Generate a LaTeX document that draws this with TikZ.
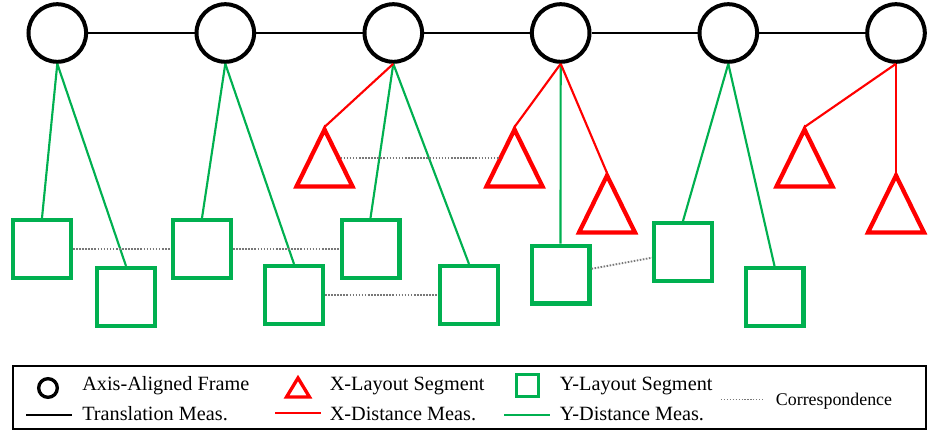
\documentclass[tikz,border=0pt]{standalone}
\usepackage{fontspec}
\setmainfont{Liberation Serif}
\definecolor{ygreen}{RGB}{0,176,80}
\definecolor{xred}{RGB}{255,0,0}
\definecolor{corrgray}{RGB}{120,120,120}
\begin{document}
\begin{tikzpicture}[x=0.75pt,y=-0.75pt,
  frame/.style={circle,draw=black,line width=3pt,minimum size=43.2pt,inner sep=0pt},
  yseg/.style={rectangle,draw=ygreen,line width=3.2pt,minimum size=43.3pt,inner sep=0pt},
  xsegline/.style={draw=xred,line width=3.2pt,line join=miter},
  trans/.style={draw=black,line width=1.6pt},
  xdist/.style={draw=xred,line width=1.6pt},
  ydist/.style={draw=ygreen,line width=1.6pt},
  corresp/.style={draw=corrgray,line width=1.4pt,dash pattern=on 1.2pt off 1.1pt},
  legtext/.style={anchor=base west,inner sep=0pt,font=\fontsize{15.2pt}{18pt}\selectfont},
  xtri/.pic={
    \draw[xsegline] (0,-28.5) -- (28,28.5) -- (-28,28.5) -- cycle;
    \coordinate (-tip) at (0,-31);
    \coordinate (-l) at (-16,0);
    \coordinate (-r) at (16,0);
  },
  legtri/.pic={
    \draw[xsegline,line width=2.5pt] (0,-9.5) -- (11.5,9.5) -- (-11.5,9.5) -- cycle;
  }]
\useasboundingbox (0,0) rectangle (928,432);

% frames
\node[frame] (c1) at (57.3,33) {};
\node[frame] (c2) at (225.3,33) {};
\node[frame] (c3) at (393.3,33) {};
\node[frame] (c4) at (560.7,33) {};
\node[frame] (c5) at (728.3,33) {};
\node[frame] (c6) at (896,33) {};
\draw[trans] (c1) -- (c2);
\draw[trans] (c2) -- (c3);
\draw[trans] (c3) -- (c4);
\draw[trans] (c4) -- (c5);
\draw[trans] (c5) -- (c6);

% Y-layout segments
\node[yseg] (bA) at (42,249) {};
\node[yseg] (bB) at (126,297) {};
\node[yseg] (bC) at (202,249) {};
\node[yseg] (bD) at (294,295) {};
\node[yseg] (bE) at (370.5,249) {};
\node[yseg] (bF) at (469,295) {};
\node[yseg] (bG) at (560.5,274.5) {};
\node[yseg] (bH) at (683,252) {};
\node[yseg] (bI) at (774.5,297) {};

% X-layout segments
\pic (t1) at (324.5,158) {xtri};
\pic (t2) at (514.5,158) {xtri};
\pic (t3) at (607,204) {xtri};
\pic (t4) at (804.5,158) {xtri};
\pic (t5) at (896,204) {xtri};

% Y-distance measurements
\draw[ydist] (c1.south) -- (bA.north);
\draw[ydist] (c1.south) -- (bB.north);
\draw[ydist] (c2.south) -- (bC.north);
\draw[ydist] (c2.south) -- (bD.north);
\draw[ydist] (c3.south) -- (bE.north);
\draw[ydist] (c3.south) -- (bF.north);
\draw[ydist] (c4.south) -- (bG.north);
\draw[ydist] (c5.south) -- (bH.north);
\draw[ydist] (c5.south) -- (bI.north);

% X-distance measurements
\draw[xdist] (c3.south) -- (t1-tip);
\draw[xdist] (c4.south) -- (t2-tip);
\draw[xdist] (c4.south) -- (t3-tip);
\draw[xdist] (c6.south) -- (t4-tip);
\draw[xdist] (c6.south) -- (t5-tip);

% correspondences
\draw[corresp] (t1-r) -- (t2-l);
\draw[corresp] (bA) -- (bC);
\draw[corresp] (bC) -- (bE);
\draw[corresp] (bD) -- (bF);
\draw[corresp] (bG) -- (bH);

% legend
\draw[line width=1.5pt] (12.5,365.5) rectangle (926,428.5);
\node[frame,line width=2.5pt,minimum size=14pt] (lframe) at (48,388) {};
\pic (ltri) at (298,387.5) {legtri};
\node[yseg,line width=2.5pt,minimum size=16.3pt] (lseg) at (527.5,385.5) {};
\coordinate (lt1) at (26,415); \coordinate (lt2) at (72,415);
\draw[trans] (lt1) -- (lt2);
\coordinate (lx1) at (275,413); \coordinate (lx2) at (321,413);
\draw[xdist] (lx1) -- (lx2);
\coordinate (ly1) at (504,415); \coordinate (ly2) at (550,415);
\draw[ydist] (ly1) -- (ly2);
\coordinate (lc1) at (721,399.3); \coordinate (lc2) at (764,399.3);
\draw[corresp,line width=1pt,dash pattern=on 0.9pt off 1.3pt] (lc1) -- (lc2);

\node[legtext] (l1) at (82,390) {Axis-Aligned Frame};
\node[legtext] (l2) at (82,420) {Translation Meas.};
\node[legtext] (l3) at (329.5,390) {X-Layout Segment};
\node[legtext] (l4) at (329.5,420) {X-Distance Meas.};
\node[legtext] (l5) at (559.7,390) {Y-Layout Segment};
\node[legtext] (l6) at (559.7,420) {Y-Distance Meas.};
\node[legtext,font=\fontsize{13.4pt}{16pt}\selectfont] (l7) at (775.7,405) {Correspondence};
\end{tikzpicture}
\end{document}
